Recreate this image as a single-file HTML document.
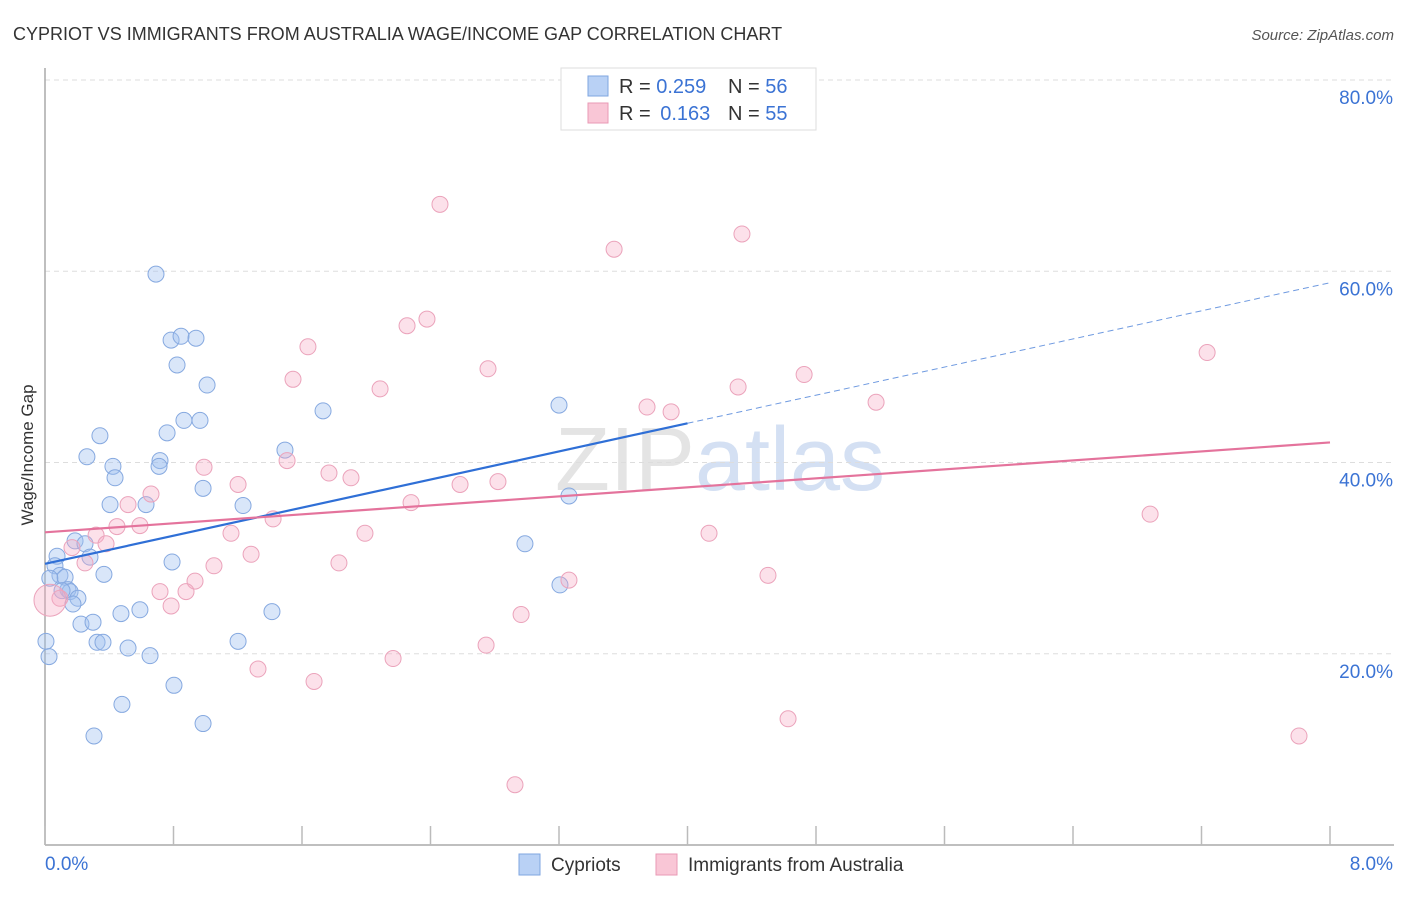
<!DOCTYPE html>
<html><head><meta charset="utf-8"><style>
body{margin:0;background:#fff;font-family:"Liberation Sans",sans-serif;}
svg text{font-family:"Liberation Sans",sans-serif;}
</style></head><body>
<svg id="chart" width="1406" height="892" xmlns="http://www.w3.org/2000/svg">
<text x="13" y="40" font-size="18" fill="#333">CYPRIOT VS IMMIGRANTS FROM AUSTRALIA WAGE/INCOME GAP CORRELATION CHART</text>
<text x="1394" y="40" font-size="15" fill="#555" text-anchor="end" font-style="italic">Source: ZipAtlas.com</text>
<text x="720" y="490" font-size="90" fill="#e4e4e4" text-anchor="middle" font-family="Liberation Serif">ZIP<tspan fill="#d4e0f3" font-family="Liberation Sans">atlas</tspan></text>
<g id="grid"></g>
<g id="axes"></g>
<g id="marks"></g>
<text transform="translate(33,455) rotate(-90)" font-size="17" fill="#333" text-anchor="middle">Wage/Income Gap</text>
<g>
<rect x="561" y="68" width="255" height="62" fill="#fff" stroke="#ddd"/>
<rect x="588" y="76" width="20" height="20" fill="#b9d1f5" stroke="#7fa6e0"/>
<rect x="588" y="103" width="20" height="20" fill="#f9c6d6" stroke="#e99ab5"/>
<text x="619" y="93" font-size="20" fill="#333">R = <tspan fill="#3b73d4">0.259</tspan></text>
<text x="728" y="93" font-size="20" fill="#333">N = <tspan fill="#3b73d4">56</tspan></text>
<text x="619" y="120" font-size="20" fill="#333">R = <tspan fill="#3b73d4" dx="4">0.163</tspan></text>
<text x="728" y="120" font-size="20" fill="#333">N = <tspan fill="#3b73d4">55</tspan></text>
</g>
<g>
<rect x="519" y="854" width="21" height="21" fill="#b9d1f5" stroke="#7fa6e0"/>
<text x="551" y="871" font-size="19" fill="#333">Cypriots</text>
<rect x="656" y="854" width="21" height="21" fill="#f9c6d6" stroke="#e99ab5"/>
<text x="688" y="871" font-size="19" fill="#333">Immigrants from Australia</text>
</g>
</svg>
<script>
const blueX=[0.691,0.785,0.847,0.940,0.822,1.009,1.731,0.865,0.965,0.342,0.760,0.261,0.716,0.423,0.710,0.436,0.984,0.405,0.629,1.233,1.494,3.200,3.262,2.988,3.206,0.187,0.249,0.075,0.280,0.062,0.093,0.125,0.367,0.791,0.143,0.156,0.205,0.174,0.106,0.473,0.591,1.413,0.224,0.299,0.324,0.361,0.517,0.654,1.202,0.006,0.025,0.803,0.479,0.984,0.305,0.03];
const blueY=[59.7,52.8,53.2,53.0,50.2,48.1,45.4,44.4,44.4,42.8,43.1,40.6,40.2,39.6,39.6,38.4,37.3,35.6,35.6,35.5,41.3,46.0,36.5,31.5,27.2,31.8,31.5,30.2,30.1,29.2,28.2,28.0,28.3,29.6,26.7,26.5,25.8,25.2,26.6,24.2,24.6,24.4,23.1,23.3,21.2,21.2,20.6,19.8,21.3,21.3,19.7,16.7,14.7,12.7,11.4,27.9];
const pinkX=[2.459,3.543,4.339,2.378,2.254,1.637,7.235,1.544,2.758,2.086,4.315,4.726,5.174,3.748,3.898,0.990,1.507,1.768,1.905,1.202,2.584,2.820,0.660,2.279,0.517,6.880,1.420,0.448,0.591,1.158,1.992,4.134,0.318,0.380,0.168,1.283,1.830,0.249,1.052,4.501,3.262,0.934,0.716,0.878,0.785,0.093,0.031,2.964,2.746,2.167,1.326,1.675,4.626,7.807,2.926];
const pinkY=[67.0,62.3,63.9,55.0,54.3,52.1,51.5,48.7,49.8,47.7,47.9,49.2,46.3,45.8,45.3,39.5,40.2,38.9,38.4,37.7,37.7,38.0,36.7,35.8,35.6,34.6,34.1,33.3,33.4,32.6,32.6,32.6,32.4,31.5,31.1,30.4,29.5,29.5,29.2,28.2,27.7,27.6,26.5,26.5,25.0,25.8,25.6,24.1,20.9,19.5,18.4,17.1,13.2,11.4,6.3];
const pinkR=pinkY.map((v,i)=>i===46?16:8);
const blueTrend=[29.4,44.1,58.8]; // at x=0, 4, 8
const pinkTrend=[32.7,42.1]; // at x=0, 8
const yTicks=[20,40,60,80];
const yTickLabels=["20.0%","40.0%","60.0%","80.0%"];
const xTicks=[0,0.8,1.6,2.4,3.2,4.0,4.8,5.6,6.4,7.2,8.0];

const NS="http://www.w3.org/2000/svg";
const sx=v=>45+v/8*1285;
const sy=v=>845-v*9.5625;
function mk(tag,attrs,parent){const e=document.createElementNS(NS,tag);for(const k in attrs)e.setAttribute(k,attrs[k]);document.getElementById(parent).appendChild(e);return e;}

yTicks.forEach((t,i)=>{
 const l=mk('line',{x1:45,x2:1394,y1:sy(t),y2:sy(t),stroke:'#ddd','stroke-dasharray':'5,4'},'grid');
 
 
 const tx=mk('text',{x:1393,y:sy(t)+24,'font-size':19,fill:'#3b73d4','text-anchor':'end'},'grid');
 tx.textContent=yTickLabels[i];
 
 
});
const ax=mk('line',{x1:45,x2:45,y1:68,y2:845,stroke:'#aaa','stroke-width':1.5},'axes');


const bx=mk('line',{x1:45,x2:1394,y1:845,y2:845,stroke:'#aaa','stroke-width':1.5},'axes');


xTicks.forEach(t=>{
 const l=mk('line',{x1:sx(t),x2:sx(t),y1:826,y2:845,stroke:'#bbb','stroke-width':1.5},'axes');
 
 
});
const xl0=mk('text',{x:45,y:870,'font-size':19,fill:'#3b73d4'},'axes');xl0.textContent="0.0%";


const xl1=mk('text',{x:1393,y:870,'font-size':19,fill:'#3b73d4','text-anchor':'end'},'axes');xl1.textContent="8.0%";



blueX.forEach((x,i)=>{
 const c=mk('circle',{cx:sx(x),cy:sy(blueY[i]),r:8,fill:'rgba(160,192,240,0.4)',stroke:'#86a9e0','stroke-width':1},'marks');
 
 
});
pinkX.forEach((x,i)=>{
 const c=mk('circle',{cx:sx(x),cy:sy(pinkY[i]),r:pinkR[i],fill:'rgba(245,170,195,0.35)',stroke:'#eba3bb','stroke-width':1},'marks');
 
 
});
const bt=mk('line',{x1:sx(0),y1:sy(blueTrend[0]),x2:sx(4),y2:sy(blueTrend[1]),stroke:'#2f6fd6','stroke-width':2.2},'marks');


const bd=mk('line',{x1:sx(4),y1:sy(blueTrend[1]),x2:sx(8),y2:sy(blueTrend[2]),stroke:'#6f9ae0','stroke-width':1,'stroke-dasharray':'6,4'},'marks');


const pt=mk('line',{x1:sx(0),y1:sy(pinkTrend[0]),x2:sx(8),y2:sy(pinkTrend[1]),stroke:'#e4739c','stroke-width':2.2},'marks');


</script>
</body></html>
